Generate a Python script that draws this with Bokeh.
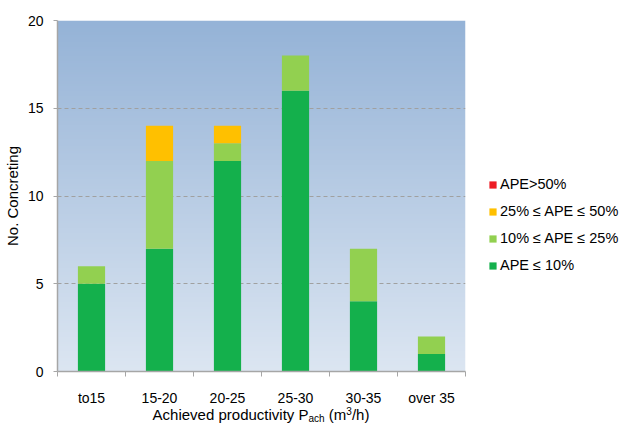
import numpy as np
from bokeh.plotting import figure
from bokeh.layouts import column
from bokeh.models import (ColumnDataSource, FixedTicker, Legend, LegendItem,
                          Range1d, Div)
from bokeh.embed import file_html
from bokeh.resources import INLINE

# ---------------- data ----------------
categories = ["to15", "15-20", "20-25", "25-30", "30-35", "over 35"]
ape_le10 = [5, 7, 12, 16, 4, 1]
ape_10_25 = [1, 5, 1, 2, 3, 1]
ape_25_50 = [0, 2, 1, 0, 0, 0]
ape_gt50 = [0, 0, 0, 0, 0, 0]
series_names = ["APE \u2264 10%", "10% \u2264 APE \u2264 25%",
                "25% \u2264 APE \u2264 50%", "APE>50%"]
series_colors = ["#14B04C", "#92D050", "#FFC000", "#ED1C24"]
y_ticks = [0, 5, 10, 15, 20]
y_label = "No. Concreting"
x_label_html = ("Achieved productivity P<sub style='font-size:10px;vertical-align:-2px'>ach</sub>"
                " (m<sup style='font-size:10px;vertical-align:5px'>3</sup>/h)")

FONT = "Liberation Sans"
TXT = "#000000"
GRAY = "#A6A6A6"

x = list(range(len(categories)))
src = ColumnDataSource(dict(x=x, s0=ape_le10, s1=ape_10_25,
                            s2=ape_25_50, s3=ape_gt50))

x_start, x_end = -0.5, len(categories) - 0.5
y_start, y_end = y_ticks[0], y_ticks[-1]

FL, FW, FT, FH = 57, 408, 20, 351
FIG_H = 403
p = figure(frame_width=FW, frame_height=FH,
           min_border_left=FL, min_border_right=624 - FL - FW,
           min_border_top=FT, min_border_bottom=FIG_H - FT - FH,
           x_range=Range1d(x_start, x_end), y_range=Range1d(y_start, y_end),
           output_backend="svg", toolbar_location=None)
p.outline_line_color = None
p.border_fill_color = "white"

# gradient plot-area background
top = np.array([0x95, 0xB3, 0xD7], dtype=float)
bot = np.array([0xDC, 0xE6, 0xF2], dtype=float)
n = 200
t = np.linspace(0, 1, n)[:, None]
cols = (bot * (1 - t) + top * t).astype(np.uint8)
img = np.empty((n, 1), dtype=np.uint32)
view = img.view(dtype=np.uint8).reshape((n, 1, 4))
view[:, 0, 0] = cols[:, 0]
view[:, 0, 1] = cols[:, 1]
view[:, 0, 2] = cols[:, 2]
view[:, 0, 3] = 255
p.image_rgba(image=[img], x=x_start, y=y_start, dw=x_end - x_start,
             dh=y_end - y_start, level="image")

rs = p.vbar_stack(["s0", "s1", "s2", "s3"], x="x", width=0.4,
                  fill_color=series_colors, line_color=None, source=src)

# grid
p.xgrid.visible = False
p.ygrid.ticker = FixedTicker(ticks=y_ticks)
p.ygrid.grid_line_color = "#A0A0A0"
p.ygrid.grid_line_dash = "4 3"
p.ygrid.grid_line_width = 1

# y axis
ya = p.yaxis[0]
ya.ticker = FixedTicker(ticks=y_ticks)
ya.axis_line_color = GRAY
ya.axis_line_width = 1.5
ya.major_tick_line_color = GRAY
ya.major_tick_out = 4
ya.major_tick_in = 0
ya.minor_tick_line_color = None
ya.major_label_text_font = FONT
ya.major_label_text_font_size = "14px"
ya.major_label_text_color = TXT
ya.major_label_standoff = 10
ya.axis_label = y_label
ya.axis_label_text_font = FONT
ya.axis_label_text_font_size = "15px"
ya.axis_label_text_font_style = "normal"
ya.axis_label_text_color = TXT
ya.axis_label_standoff = 4

# x axis
xa = p.xaxis[0]
xa.ticker = FixedTicker(ticks=x, minor_ticks=[i - 0.5 for i in range(len(categories) + 1)])
xa.major_label_overrides = {i: c for i, c in zip(x, categories)}
xa.axis_line_color = GRAY
xa.axis_line_width = 1.5
xa.major_tick_line_color = None
xa.major_tick_out = 0
xa.major_tick_in = 0
xa.minor_tick_line_color = GRAY
xa.minor_tick_out = 5
xa.minor_tick_in = 0
xa.major_label_text_font = FONT
xa.major_label_text_font_size = "14px"
xa.major_label_text_color = TXT
xa.major_label_standoff = 13

# legend
items = [LegendItem(label=series_names[i], renderers=[rs[i]])
         for i in reversed(range(len(series_names)))]
legend = Legend(items=items, location=(23, 98), orientation="vertical",
                border_line_color=None, background_fill_alpha=0,
                padding=0, margin=0, glyph_width=9, glyph_height=9,
                label_height=14, spacing=11, label_standoff=3,
                label_text_font=FONT, label_text_font_size="14.5px",
                label_text_color=TXT)
p.add_layout(legend, "right")

# x axis title (HTML so that sub/superscripts stay real text)
div = Div(text=x_label_html, width=2 * (FL + FW // 2), height=424 - FIG_H, margin=0,
          styles={"font-family": FONT, "font-size": "15px", "line-height": "21px",
                  "text-align": "center", "color": TXT, "white-space": "nowrap",
                  "transform": "translateY(-7px)"})

layout = column(p, div, spacing=0)
open("out.html", "w").write(file_html(layout, INLINE))
